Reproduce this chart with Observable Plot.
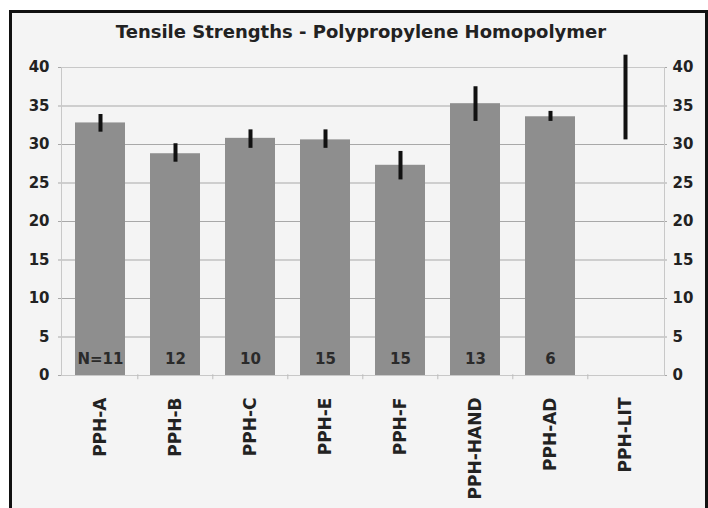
<!DOCTYPE html>
<html>
<head>
<meta charset="utf-8">
<script src="https://cdn.jsdelivr.net/npm/d3@7"></script>
<script src="https://cdn.jsdelivr.net/npm/@observablehq/plot@0.6"></script>
<style>
  html, body { margin: 0; padding: 0; background: #ffffff; width: 708px; height: 508px; overflow: hidden; }
  #frame { position: absolute; left: 9px; top: 10px; width: 699px; height: 520px; box-sizing: border-box;
           border: 3px solid #111; border-bottom: none; background: #f4f4f4; }
  #title { position: absolute; left: 0; width: 722px; top: 21px; text-align: center;
           font-family: "DejaVu Sans", sans-serif; font-weight: bold; font-size: 18px; color: #222; }
  #chart { position: absolute; left: 0; top: 0; }
</style>
</head>
<body>
<div id="frame"></div>
<div id="title">Tensile Strengths - Polypropylene Homopolymer</div>
<div id="chart"></div>
<script>
const categories = ["PPH-A", "PPH-B", "PPH-C", "PPH-E", "PPH-F", "PPH-HAND", "PPH-AD", "PPH-LIT"];
const means      = [32.8, 28.8, 30.8, 30.6, 27.3, 35.3, 33.6, null];
const errLow     = [31.6, 27.7, 29.5, 29.5, 25.4, 33.0, 33.0, 30.6];
const errHigh    = [33.9, 30.1, 31.9, 31.9, 29.1, 37.5, 34.3, 41.6];
const nLabels    = ["N=11", "12", "10", "15", "15", "13", "6", ""];
const yTicks     = [0, 5, 10, 15, 20, 25, 30, 35, 40];

const data = categories.map((c, i) => ({
  cat: c, mean: means[i], lo: errLow[i], hi: errHigh[i], n: nLabels[i]
}));
const barsData = data.filter(d => d.mean != null);
const font = "DejaVu Sans";

const chart = Plot.plot({
  width: 708,
  height: 508,
  marginLeft: 61,
  marginRight: 44,
  marginTop: 67,
  marginBottom: 133,
  style: { background: "transparent", fontFamily: font, color: "#222" },
  x: { type: "band", domain: categories, paddingInner: 0.335, paddingOuter: 0.1675, label: null },
  y: { type: "linear", domain: [0, 40], label: null },
  marks: [
    Plot.gridY(yTicks, { stroke: "#a8a8a8", strokeOpacity: 1, strokeWidth: 1 }),
    Plot.frame({ stroke: "#c8c8c8" }),
    Plot.barY(barsData, { x: "cat", y: "mean", fill: "#8e8e8e" }),
    Plot.ruleX(data, { x: "cat", y1: "lo", y2: "hi", stroke: "#111", strokeWidth: 4 }),
    Plot.text(data, { x: "cat", y: () => 0, text: "n", dy: -16, fontSize: 15, fontWeight: "bold", fill: "#2a2a2a" }),
    Plot.axisY(yTicks, { anchor: "left", tickSize: 3, tickPadding: 9, stroke: "#a8a8a8", fontSize: 15, fontWeight: "bold", label: null }),
    Plot.axisY(yTicks, { anchor: "right", tickSize: 2, tickPadding: 6, stroke: "#a8a8a8", fontSize: 15, fontWeight: "bold", label: null }),
    Plot.axisX({ tickRotate: -90, tickSize: 0, tickPadding: 22, fontSize: 17, fontWeight: "bold", label: null }),
    Plot.ruleX(categories.slice(1), { x: d => d, y1: () => 0.1, y2: () => -0.55, dx: -37.7, stroke: "#bdbdbd" })
  ]
});
document.getElementById("chart").appendChild(chart);
</script>
</body>
</html>
